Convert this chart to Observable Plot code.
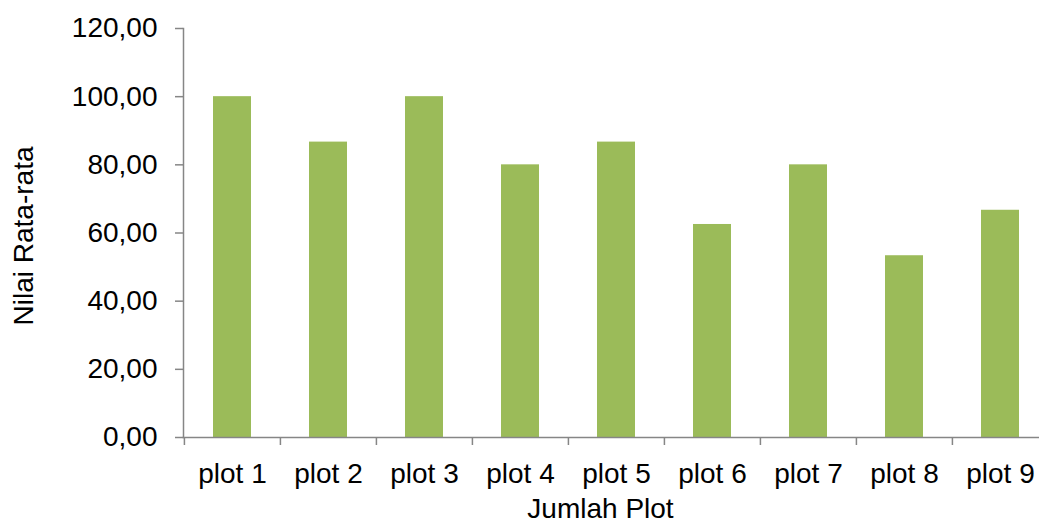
<!DOCTYPE html>
<html>
<head>
<meta charset="utf-8">
<script src="https://cdn.jsdelivr.net/npm/d3@7"></script>
<script src="https://cdn.jsdelivr.net/npm/@observablehq/plot@0.6"></script>
<style>
  html, body { margin: 0; padding: 0; background: #fff; }
  #chart svg { display: block; }
</style>
</head>
<body>
<div id="chart"></div>
<script>
const categories = ["plot 1", "plot 2", "plot 3", "plot 4", "plot 5", "plot 6", "plot 7", "plot 8", "plot 9"];
const values = [100, 86.67, 100, 80, 86.67, 62.5, 80, 53.33, 66.67];
const yTicks = [0, 20, 40, 60, 80, 100, 120];
const yLabel = "Nilai Rata-rata";
const xLabel = "Jumlah Plot";

const data = categories.map((c, i) => ({category: c, value: values[i]}));

const W = 1039, H = 523;
const mL = 183, mR = -9.6, mT = 28, mB = 86;
const step = (W - mR - mL) / categories.length;
const axisGray = "#868686";

const chart = Plot.plot({
  width: W,
  height: H,
  marginLeft: mL,
  marginRight: mR,
  marginTop: mT,
  marginBottom: mB,
  style: {fontFamily: "'Liberation Sans', Arial, sans-serif", fontSize: "28px", color: "#000", background: "#fff"},
  x: {domain: categories, paddingInner: 0.6, paddingOuter: 0.3, align: 0.5},
  y: {domain: [0, 120]},
  marks: [
    Plot.barY(data, {x: "category", y: "value", fill: "#9BBB59"}),
    Plot.frame({anchor: "left", stroke: axisGray, strokeWidth: 1.5}),
    Plot.frame({anchor: "bottom", stroke: axisGray, strokeWidth: 1.5}),
    Plot.ruleX(categories, {x: d => d, dx: -step / 2, insetTop: (H - mB - mT), insetBottom: -8, stroke: axisGray, strokeWidth: 1.5}),
    Plot.axisY({ticks: yTicks, tickSize: 8, tickPadding: 18, tickFormat: d => d.toFixed(2).replace(".", ","), stroke: axisGray, strokeWidth: 1.5, fill: "#000", fontSize: 28, label: null}),
    Plot.axisX({tickSize: 0, tickPadding: 26, fill: "#000", fontSize: 28, label: null}),
    Plot.text([yLabel], {frameAnchor: "left", rotate: -90, textAnchor: "middle", lineAnchor: "middle", dx: -159, dy: 3, fontSize: 28, fill: "#000", text: d => d}),
    Plot.text([xLabel], {frameAnchor: "bottom-left", textAnchor: "middle", lineAnchor: "middle", dx: 417, dy: 72, fontSize: 28, fill: "#000", text: d => d})
  ]
});
document.getElementById("chart").appendChild(chart);
</script>
</body>
</html>
